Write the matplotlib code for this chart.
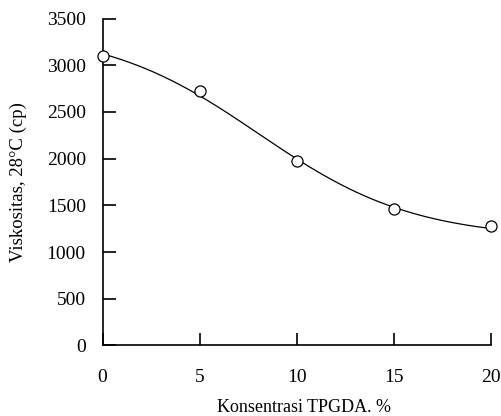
import numpy as np
import matplotlib
matplotlib.use('Agg')
import matplotlib.pyplot as plt

# data
konsentrasi = [0, 5, 10, 15, 20]
viskositas = [3100, 2720, 1970, 1460, 1275]
x_ticks = [0, 5, 10, 15, 20]
y_ticks = [0, 500, 1000, 1500, 2000, 2500, 3000, 3500]

plt.rcParams['font.family'] = ['Liberation Serif', 'DejaVu Serif']

fig = plt.figure(figsize=(5.01, 4.16), dpi=100)
ax = fig.add_axes([0.2046, 0.1695, 0.775, 0.786])

# smooth trend curve: sigmoid least-squares fit of the points (width kept broad)
x = np.array(konsentrasi, dtype=float)
y = np.array(viskositas, dtype=float)
w = 4.0
best = None
for x0 in np.linspace(0, 20, 401):
    s = 1 / (1 + np.exp((x - x0) / w))
    A = np.column_stack([s, 1 - s])
    p = np.linalg.lstsq(A, y, rcond=None)[0]
    err = np.sum((A @ p - y) ** 2)
    if best is None or err < best[0]:
        best = (err, x0, p)
_, x0, p = best
xs = np.linspace(0, 20, 200)
s = 1 / (1 + np.exp((xs - x0) / w))
ax.plot(xs, p[0] * s + p[1] * (1 - s), color='black', lw=0.9, clip_on=False)

ax.plot(konsentrasi, viskositas, 'o', mfc='white', mec='black', ms=8, mew=0.9,
        clip_on=False, zorder=3)

ax.set_xlim(0, 20)
ax.set_ylim(0, 3500)
ax.set_xticks(x_ticks)
ax.set_yticks(y_ticks)

for sp in ['top', 'right']:
    ax.spines[sp].set_visible(False)
for sp in ['left', 'bottom']:
    ax.spines[sp].set_linewidth(1.2)

ax.tick_params(direction='in', length=9, width=1.2, labelsize=14)
ax.tick_params(axis='y', pad=12)
ax.tick_params(axis='x', pad=17)

ax.set_xlabel('Konsentrasi TPGDA. %', fontsize=13)
ax.set_ylabel('Viskositas, 28°C (cp)', fontsize=13.5, labelpad=14)
ax.xaxis.set_label_coords(0.52, -0.165)

fig.savefig('out.png', dpi=100)
